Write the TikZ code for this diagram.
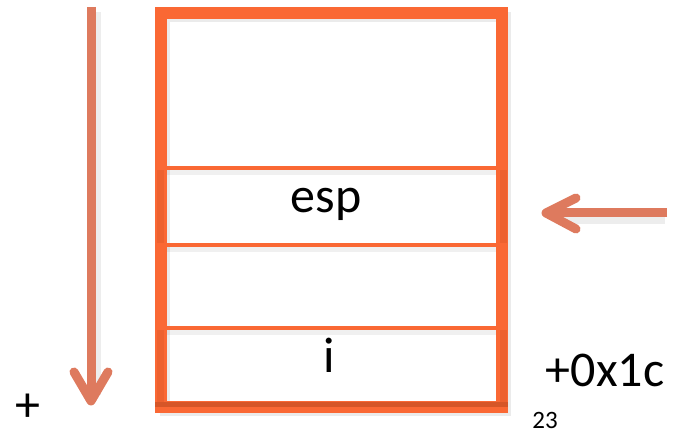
\documentclass[tikz,border=0pt]{standalone}
\usepackage{fontspec}
\setmainfont{Carlito}
\definecolor{boxorange}{RGB}{250,104,52}
\definecolor{boxdark}{RGB}{214,86,40}
\definecolor{arrowsalmon}{RGB}{222,122,94}
\tikzset{
  frame/.style={draw=boxorange, line width=12pt},
  rowline/.style={draw=boxorange, line width=4pt},
  rowside/.style={draw=boxdark, line width=7pt, opacity=0.35},
  softshadow/.style={draw=black, opacity=0.08, line width=10pt},
  arrowline/.style={draw=arrowsalmon, line width=9pt},
  chevron/.style={draw=arrowsalmon, line width=9pt, line cap=round, line join=round},
  bigtext/.style={font=\fontsize{50}{50}\selectfont, inner sep=0pt, anchor=base},
  smalltext/.style={font=\fontsize{25}{25}\selectfont, inner sep=0pt, anchor=base},
}
\begin{document}
\begin{tikzpicture}[x=1pt,y=-1pt]
\useasboundingbox (0,0) rectangle (673,435);
% shadows
\draw[softshadow] (165,17) rectangle (506,411);
\draw[black, opacity=0.07, line width=12pt] (95,12) -- (95,395);
\draw[black, opacity=0.07, line width=12pt] (665,218) -- (560,218);
% box frame
\draw[frame] (161,13) rectangle (502,407);
% row separators with faint shadow
\foreach \yy in {172,249,332}{
  \draw[black, opacity=0.06, line width=6pt] (167,\yy) -- (496,\yy);
}
% esp row
\draw[rowside] (160,170) -- (160,243);
\draw[rowside] (503,170) -- (503,243);
\draw[rowline] (155,168) -- (508,168);
\draw[rowline] (155,245) -- (508,245);
% i row
\draw[rowside] (160,330) -- (160,402);
\draw[rowside] (503,330) -- (503,402);
\draw[rowline] (155,328) -- (508,328);
\draw[boxdark, line width=5pt] (155,405) -- (508,405);
% texts
\node[bigtext] (esp) at (326,213) {esp};
\node[bigtext] (ivar) at (329,373) {i};
\node[bigtext] (offs) at (605,387) {+0x1c};
\node[bigtext] (plus) at (28,422) {+};
\node[smalltext] (page) at (545,429) {23};
% down arrow
\coordinate (dtop) at (91,7);
\coordinate (dtip) at (91,401);
\coordinate (dl) at (74,372);
\coordinate (dr) at (108,372);
\draw[arrowline] (dtop) -- (dtip);
\draw[chevron] (dl) -- (dtip) -- (dr);
% left arrow
\coordinate (lstart) at (667,213);
\coordinate (ltip) at (546,213);
\coordinate (lu) at (576,198);
\coordinate (ld) at (576,229);
\draw[arrowline] (lstart) -- (ltip);
\draw[chevron] (lu) -- (ltip) -- (ld);
\end{tikzpicture}
\end{document}
